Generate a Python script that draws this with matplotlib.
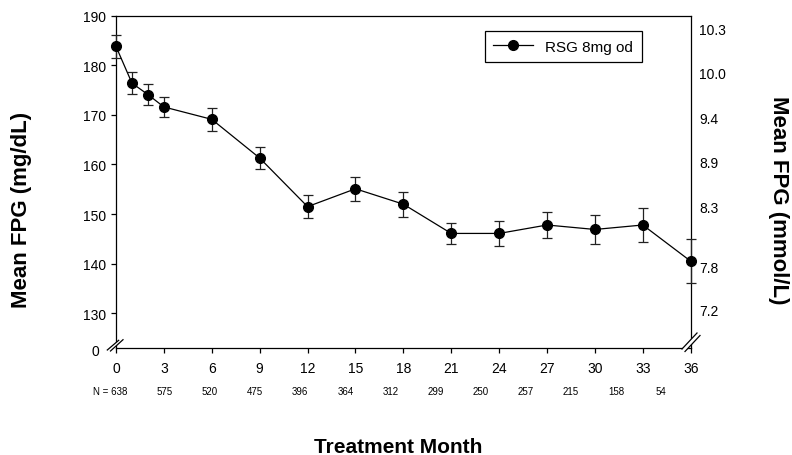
import matplotlib
matplotlib.use('Agg')
import matplotlib.pyplot as plt
from matplotlib.lines import Line2D
from matplotlib.patches import Polygon
import numpy as np

# mean FPG (mg/dL) and SE by treatment month
months = [0, 1, 2, 3, 6, 9, 12, 15, 18, 21, 24, 27, 30, 33, 36]
fpg = [183.8, 176.4, 174.1, 171.6, 169.1, 161.3, 151.5, 155.1, 152.0,
       146.1, 146.1, 147.8, 146.9, 147.8, 140.5]
fpg_se = [2.35, 2.2, 2.1, 2.1, 2.35, 2.3, 2.25, 2.4, 2.5,
          2.2, 2.55, 2.65, 2.95, 3.5, 4.4]

x_ticks = list(range(0, 37, 3))
y_ticks = [130, 140, 150, 160, 170, 180, 190]
n_counts = [638, 575, 520, 475, 396, 364, 312, 299, 250, 257, 215, 158, 54]
mmol_labels = ['10.3', '10.0', '9.4', '8.9', '8.3', '7.8', '7.2']
series_name = 'RSG 8mg od'

plt.rcParams['font.family'] = ['Liberation Sans', 'DejaVu Sans']

W, H = 792, 456
fig = plt.figure(figsize=(W / 100, H / 100), dpi=100)
ax = fig.add_axes([116 / W, 1 - 348.5 / H, 574.7 / W, 331.8 / H])

ax.errorbar(months, fpg, yerr=fpg_se, color='black', lw=0.9, marker='o',
            ms=7, ecolor='#222222', elinewidth=0.9, capsize=3.5, capthick=0.9,
            clip_on=False, zorder=3)

ax.set_xlim(0, 36)
ax.set_ylim(123.1, 190)
ax.set_xticks(x_ticks)
ax.set_yticks(y_ticks)
ax.tick_params(axis='both', direction='out', length=3.6, width=0.9,
               labelsize=10, colors='black')
ax.tick_params(axis='x', pad=6)
ax.tick_params(axis='y', pad=3.5)
for s in ax.spines.values():
    s.set_linewidth(0.9)

# right axis in mmol/L (labels only)
ax2 = ax.twinx()
ax2.set_ylim(ax.get_ylim())
mmol_pos = [187.5, 178.6, 169.5, 160.6, 151.6, 139.5, 130.7]
ax2.set_yticks(mmol_pos)
ax2.set_yticklabels(mmol_labels)
ax2.tick_params(axis='y', length=0, pad=6, labelsize=10)
for s in ax2.spines.values():
    s.set_visible(False)

handle = Line2D([], [], color='black', lw=0.9, marker='o', ms=7)
leg = ax.legend([handle], [series_name], loc='upper right',
                bbox_to_anchor=(0.9147, 0.953), borderaxespad=0,
                fancybox=False, edgecolor='black', framealpha=1,
                fontsize=11, handlelength=2.6, handletextpad=0.8,
                borderpad=0.55)
leg.get_frame().set_linewidth(0.9)

# sample sizes under the axis
n_x = [0.69] + list(np.linspace(3.07, 34.14, len(n_counts) - 1))
for i, (xp, n) in enumerate(zip(n_x, n_counts)):
    txt = 'N = %d' % n if i == 0 else str(n)
    ax.text(xp, -0.130, txt, transform=ax.get_xaxis_transform(),
            ha='right' if i == 0 else 'center', va='center', fontsize=7)

fig.text(99 / W, 1 - 352 / H, '0', ha='right', va='center', fontsize=10)

# axis break marks
def px(p):
    return (p[0] / W, 1 - p[1] / H)

def draw_break(a1, a2, b1, b2):
    poly = Polygon([px(a1), px(a2), px(b2), px(b1)], closed=True,
                   transform=fig.transFigure, facecolor='white',
                   edgecolor='none', zorder=5)
    fig.add_artist(poly)
    for p, q in [(a1, a2), (b1, b2)]:
        fig.add_artist(Line2D([px(p)[0], px(q)[0]], [px(p)[1], px(q)[1]],
                              transform=fig.transFigure, color='black',
                              lw=0.9, zorder=6))

draw_break((107.3, 351), (118.7, 341.3), (110.5, 352), (123, 340.7))
draw_break((682, 350), (697, 334), (685, 352.5), (700, 336.5))

fig.text(22 / W, 1 - 209.5 / H, 'Mean FPG (mg/dL)', rotation=90,
         ha='center', va='center', fontsize=16, fontweight='bold')
fig.text(779 / W, 1 - 200 / H, 'Mean FPG (mmol/L)', rotation=270,
         ha='center', va='center', fontsize=16, fontweight='bold')
fig.text(398 / W, 1 - 447.5 / H, 'Treatment Month', ha='center',
         va='center', fontsize=15, fontweight='bold')

fig.savefig('out.png', dpi=100)
